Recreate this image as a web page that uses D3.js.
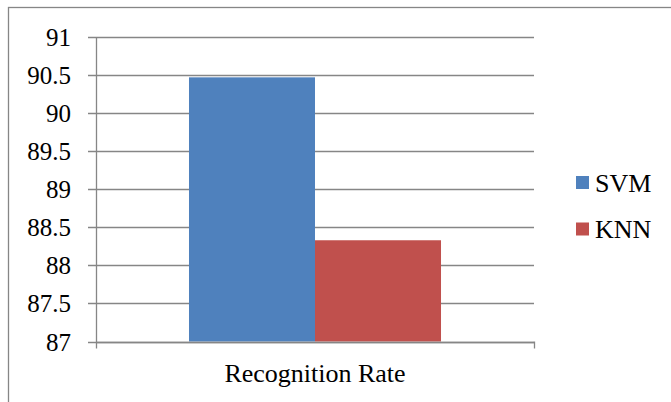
<!DOCTYPE html>
<html><head><meta charset="utf-8">
<script src="https://cdn.jsdelivr.net/npm/d3@7"></script>
<style>body{margin:0;background:#fff}svg{display:block}svg text{font-family:"Times New Roman","Liberation Serif",serif !important;}</style>
</head><body><svg width="671" height="402"></svg>
<script>
const categories = ["Recognition Rate"];
const seriesNames = ["SVM", "KNN"];
const svmValues = [90.47];
const knnValues = [88.33];
const yTicks = [87, 87.5, 88, 88.5, 89, 89.5, 90, 90.5, 91];
const colors = ["#4F81BD", "#C0504D"];

(function () {
const svg = d3.select("svg");
const gray = "#868686";
const ff = "Times New Roman";

svg.append("rect").attr("x", 8.5).attr("y", 7.5).attr("width", 700).attr("height", 420)
  .attr("fill", "none").attr("stroke", gray).attr("stroke-width", 1.3);

const pLeft = 96, pRight = 534, pTop = 37, pBottom = 341.5;
const y = d3.scaleLinear().domain([87, 91]).range([pBottom, pTop]);
const x0 = d3.scaleBand().domain(categories).range([pLeft, pRight]).paddingInner(0).paddingOuter(0.369);
const x1 = d3.scaleBand().domain(seriesNames).range([0, x0.bandwidth()]);

svg.append("g").selectAll("line").data(yTicks).join("line")
  .attr("x1", pLeft - 8).attr("x2", pRight).attr("y1", d => Math.round(y(d)) + 0.5).attr("y2", d => Math.round(y(d)) + 0.5)
  .attr("stroke", gray).attr("stroke-width", 1.3);

svg.selectAll("text.ytick").data(yTicks).join("text").attr("class", "ytick")
  .attr("x", 71).attr("y", d => y(d) + 9).attr("text-anchor", "end")
  .attr("font-family", ff).attr("font-size", 25).text(d => d);

const data = categories.map((c, i) => ({cat: c, vals: [svmValues[i], knnValues[i]]}));
data.forEach(d => {
  d.vals.forEach((v, j) => {
    svg.append("rect")
      .attr("x", x0(d.cat) + x1(seriesNames[j]))
      .attr("width", x1.bandwidth())
      .attr("y", y(v))
      .attr("height", y(87) - y(v))
      .attr("fill", colors[j]);
  });
});

svg.append("line").attr("x1", pLeft + 0.5).attr("x2", pLeft + 0.5).attr("y1", pTop).attr("y2", pBottom + 7)
  .attr("stroke", gray).attr("stroke-width", 1.3);
svg.append("line").attr("x1", pLeft).attr("x2", pRight).attr("y1", Math.round(pBottom) + 0.5).attr("y2", Math.round(pBottom) + 0.5)
  .attr("stroke", gray).attr("stroke-width", 1.3);
svg.append("line").attr("x1", pRight + 0.5).attr("x2", pRight + 0.5).attr("y1", pBottom).attr("y2", pBottom + 7)
  .attr("stroke", gray).attr("stroke-width", 1.3);

svg.selectAll("text.xcat").data(categories).join("text").attr("class", "xcat")
  .attr("x", d => x0(d) + x0.bandwidth() / 2).attr("y", 382).attr("text-anchor", "middle")
  .attr("font-family", ff).attr("font-size", 26).text(d => d);

seriesNames.forEach((s, i) => {
  const cy = 182.5 + i * 46.5;
  svg.append("rect").attr("x", 576).attr("y", cy - 6.5).attr("width", 13).attr("height", 13).attr("fill", colors[i]);
  svg.append("text").attr("x", 595).attr("y", cy + 9)
    .attr("font-family", ff).attr("font-size", 26).text(s);
});
})();
</script></body></html>
